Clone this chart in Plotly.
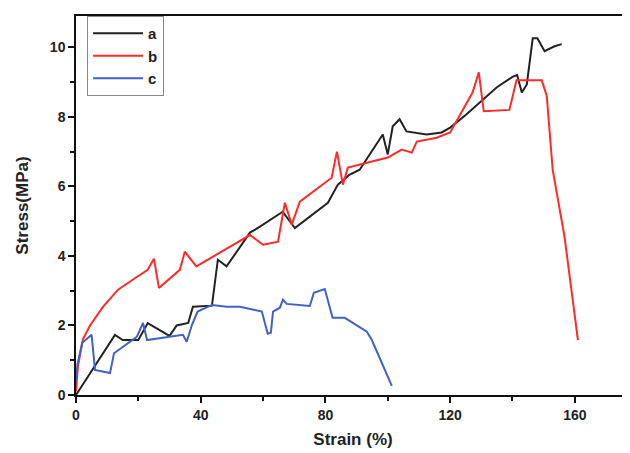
import plotly.graph_objects as go

# Strain (%) / Stress (MPa)
a_strain = [0, 12.5, 15, 20, 23, 30, 32.3, 36, 37.5, 43.6, 45.5, 48.3, 55.8, 59, 66.3, 70.2,
            80.8, 84, 87.8, 91, 98.4, 100, 101.6, 103.8, 106, 112.5, 117.3, 120, 125, 130,
            135, 140, 141.5, 143, 144.6, 146.5, 148, 150.3, 153.5, 155.8]
a_stress = [0, 1.73, 1.58, 1.58, 2.07, 1.7, 2.0, 2.07, 2.54, 2.57, 3.89, 3.7, 4.67, 4.84, 5.27, 4.8,
            5.53, 6.05, 6.34, 6.48, 7.49, 6.92, 7.73, 7.93, 7.58, 7.49, 7.55, 7.69, 8.05, 8.45,
            8.85, 9.15, 9.2, 8.7, 8.93, 10.26, 10.26, 9.89, 10.03, 10.09]

b_strain = [0, 0.6, 2.2, 4.5, 8.7, 13.5, 19.6, 23, 25, 26.6, 33.3, 34.9, 38.6, 55.8, 60, 64.8,
            67, 69.2, 71.8, 82, 83.7, 85.6, 87.2, 100, 104.5, 107.7, 109.3, 115.7, 120, 123.7,
            127.2, 129.2, 130.8, 139, 141.3, 149.4, 151, 152.9, 156.7, 161]
b_stress = [0.1, 0.8, 1.6, 2.0, 2.54, 3.03, 3.4, 3.6, 3.92, 3.08, 3.6, 4.12, 3.7, 4.6, 4.32, 4.41,
            5.53, 4.9, 5.56, 6.25, 7.0, 6.05, 6.54, 6.83, 7.06, 6.97, 7.29, 7.4, 7.55, 8.12,
            8.7, 9.28, 8.16, 8.2, 9.05, 9.05, 8.6, 6.48, 4.55, 1.58]

c_strain = [0, 0.5, 2, 5, 6.1, 10.9, 12.2, 19.5, 21.5, 22.8, 34.3, 35.5, 37.2, 39, 43.6, 48.4,
            52.6, 59.6, 61.5, 62.5, 63.2, 65.4, 66.4, 67.6, 75, 76.3, 79.8, 82.3, 86.2, 93.3,
            94.9, 101.3]
c_stress = [0.4, 0.9, 1.5, 1.73, 0.72, 0.63, 1.2, 1.67, 2.07, 1.58, 1.73, 1.53, 2.02, 2.4, 2.59, 2.54,
            2.54, 2.4, 1.76, 1.79, 2.4, 2.51, 2.74, 2.62, 2.56, 2.94, 3.05, 2.22, 2.22, 1.82,
            1.58, 0.26]

series = [("a", a_strain, a_stress, "#222222"),
          ("b", b_strain, b_stress, "#ff2a2a"),
          ("c", c_strain, c_stress, "#3f62c4")]

x_ticks = [0, 40, 80, 120, 160]
y_ticks = [0, 2, 4, 6, 8, 10]

FONT = "Arial, Liberation Sans, sans-serif"

fig = go.Figure()
for name, xs, ys, col in series:
    fig.add_trace(go.Scatter(x=xs, y=ys, mode="lines", name=name,
                             line=dict(color=col, width=2)))

# page body has an 8px default margin, so the figure is 8px smaller and margins shifted
fig.update_layout(
    width=622, height=445,
    margin=dict(l=68, r=0, t=8, b=58, autoexpand=False),
    paper_bgcolor="white", plot_bgcolor="white",
    font=dict(family=FONT, color="#222", size=14),
    showlegend=True,
    legend=dict(x=0.02, y=1.0, xanchor="left", yanchor="top",
                bgcolor="white", bordercolor="#888", borderwidth=1,
                font=dict(family=FONT, size=15, color="#222", weight="bold"),
                itemwidth=50, tracegroupgap=0),
)
fig.update_xaxes(
    range=[0, 177.7], tickvals=x_ticks, ticks="outside", ticklen=6, tickwidth=1.5,
    tickcolor="#111", showline=True, linecolor="#111", linewidth=1.5, mirror=True,
    showgrid=False, zeroline=False, automargin=False,
    tickfont=dict(family=FONT, size=14, color="#222", weight="bold"),
    minor=dict(tickvals=[20, 60, 100, 140], ticks="outside", ticklen=4, tickwidth=1.5, tickcolor="#111"),
    title=dict(text="Strain (%)", font=dict(family=FONT, size=17, color="#222", weight="bold"), standoff=12),
)
fig.update_yaxes(
    range=[0, 10.9], tickvals=y_ticks, ticks="outside", ticklen=6, tickwidth=1.5,
    tickcolor="#111", showline=True, linecolor="#111", linewidth=1.5, mirror=False,
    showgrid=False, zeroline=False, automargin=False,
    tickfont=dict(family=FONT, size=14, color="#222", weight="bold"),
    minor=dict(tickvals=[1, 3, 5, 7, 9], ticks="outside", ticklen=4, tickwidth=1.5, tickcolor="#111"),
    title=dict(text="Stress(MPa)", font=dict(family=FONT, size=17, color="#222", weight="bold"), standoff=17),
)

fig.write_html("out.html")
